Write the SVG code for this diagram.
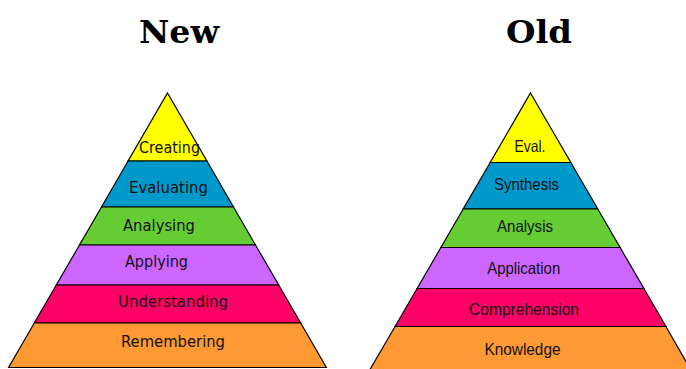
<svg xmlns="http://www.w3.org/2000/svg" width="686" height="369" viewBox="0 0 686 369">
<style>
.band{stroke:#000;stroke-width:1.2;stroke-linejoin:miter}
.y{fill:#FFFF00}.b{fill:#0099CC}.g{fill:#66CC33}.p{fill:#CC66FF}.m{fill:#FF0066}.o{fill:#FF9933}
.tn{font-family:"DejaVu Sans",sans-serif;font-size:16px;fill:#111;text-anchor:middle}
.to{font-family:"Liberation Sans",Arial,sans-serif;font-size:16.5px;fill:#111;text-anchor:middle}
.title{font-family:"DejaVu Serif","Liberation Serif",serif;font-weight:bold;font-size:32px;fill:#000;text-anchor:middle}
</style>
<rect width="686" height="369" fill="#fff"/>
<text class="title" x="179" y="43" textLength="80" lengthAdjust="spacingAndGlyphs">New</text>
<text class="title" x="539" y="43" textLength="66" lengthAdjust="spacingAndGlyphs">Old</text>
<g id="new-pyramid">
<g id="new-creating"><polygon class="band y" points="167.5,93 206.9,161 128.1,161"/><text class="tn" x="169.5" y="153" textLength="61" lengthAdjust="spacingAndGlyphs">Creating</text></g>
<g id="new-evaluating"><polygon class="band b" points="128.1,161 206.9,161 233.5,207 101.5,207"/><text class="tn" x="168.5" y="193" textLength="79" lengthAdjust="spacingAndGlyphs">Evaluating</text></g>
<g id="new-analysing"><polygon class="band g" points="101.5,207 233.5,207 255.5,245 79.5,245"/><text class="tn" x="159" y="231" textLength="72" lengthAdjust="spacingAndGlyphs">Analysing</text></g>
<g id="new-applying"><polygon class="band p" points="79.5,245 255.5,245 278.7,285 56.3,285"/><text class="tn" x="156.5" y="267" textLength="63" lengthAdjust="spacingAndGlyphs">Applying</text></g>
<g id="new-understanding"><polygon class="band m" points="56.3,285 278.7,285 300.7,323 34.3,323"/><text class="tn" x="173" y="306.5" textLength="110" lengthAdjust="spacingAndGlyphs">Understanding</text></g>
<g id="new-remembering"><polygon class="band o" points="34.3,323 300.7,323 326.4,367.5 8.6,367.5"/><text class="tn" x="173" y="346.5" textLength="104" lengthAdjust="spacingAndGlyphs">Remembering</text></g>
</g>
<g id="old-pyramid">
<g id="old-eval"><polygon class="band y" points="530.5,93 570.8,162.5 490.2,162.5"/><text class="to" x="530" y="152" textLength="31" lengthAdjust="spacingAndGlyphs">Eval.</text></g>
<g id="old-synthesis"><polygon class="band b" points="490.2,162.5 570.8,162.5 597.8,209 463.2,209"/><text class="to" x="526.5" y="190" textLength="65" lengthAdjust="spacingAndGlyphs">Synthesis</text></g>
<g id="old-analysis"><polygon class="band g" points="463.2,209 597.8,209 620.1,247.5 440.9,247.5"/><text class="to" x="525" y="232" textLength="56" lengthAdjust="spacingAndGlyphs">Analysis</text></g>
<g id="old-application"><polygon class="band p" points="440.9,247.5 620.1,247.5 643.9,288.5 417.1,288.5"/><text class="to" x="523.7" y="274" textLength="73" lengthAdjust="spacingAndGlyphs">Application</text></g>
<g id="old-comprehension"><polygon class="band m" points="417.1,288.5 643.9,288.5 665.9,326.5 395.1,326.5"/><text class="to" x="524" y="315" textLength="110" lengthAdjust="spacingAndGlyphs">Comprehension</text></g>
<g id="old-knowledge"><polygon class="band o" points="395.1,326.5 665.9,326.5 692,372 368.5,372"/><text class="to" x="522.5" y="355" textLength="76" lengthAdjust="spacingAndGlyphs">Knowledge</text></g>
</g>
<g id="connectors"/>
</svg>
